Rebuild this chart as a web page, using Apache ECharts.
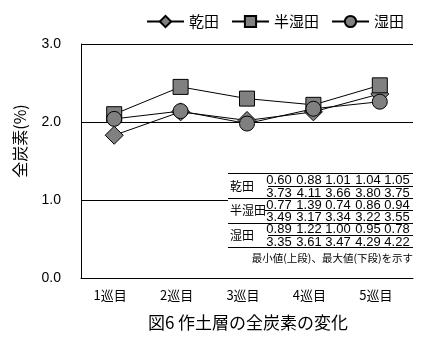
<!DOCTYPE html>
<html><head><meta charset="utf-8">
<script src="https://cdn.jsdelivr.net/npm/echarts@6/dist/echarts.min.js"></script>
<style>html,body{margin:0;padding:0;background:#fff}#c{width:431px;height:354px}</style>
</head><body><div id="c"></div>
<script>
const categories = ['1巡目','2巡目','3巡目','4巡目','5巡目'];
const seriesNames = ['乾田','半湿田','湿田'];
const kanden = [1.83, 2.13, 2.02, 2.13, 2.36];
const hanshitsuden = [2.10, 2.45, 2.30, 2.22, 2.47];
const shitsuden = [2.04, 2.14, 1.98, 2.17, 2.26];
const yTicks = [0, 1, 2, 3];
const minKanden = ['0.60','0.88','1.01','1.04','1.05'];
const maxKanden = ['3.73','4.11','3.66','3.80','3.75'];
const minHan = ['0.77','1.39','0.74','0.86','0.94'];
const maxHan = ['3.49','3.17','3.34','3.22','3.55'];
const minShitsu = ['0.89','1.22','1.00','0.95','0.78'];
const maxShitsu = ['3.35','3.61','3.47','4.29','4.22'];
const note = '最小値(上段)、最大値(下段)を示す';
const title = '図6 作土層の全炭素の変化';
const yName = '全炭素(%)';

const FONT = '"Noto Sans CJK JP", sans-serif';
const NUMFONT = '"Liberation Sans Narrow", "Liberation Sans", sans-serif';
const chart = echarts.init(document.getElementById('c'));

// table graphics
const tbl = [];
const tx0 = 228, tx1 = 413, ty0 = 173.5, rowH = 12.3;
const colX = [279, 309, 338, 368, 397];
tbl.push({type:'rect', shape:{x:tx0, y:ty0, width:tx1-tx0+3, height:93}, style:{fill:'#fff'}, z:10});
tbl.push({type:'line', shape:{x1:tx0, y1:ty0, x2:tx1, y2:ty0}, style:{stroke:'#000', lineWidth:1}, z:11});
const groups = [[seriesNames[0], minKanden, maxKanden],[seriesNames[1], minHan, maxHan],[seriesNames[2], minShitsu, maxShitsu]];
const rowLineStart = [268, 265, 268];
groups.forEach((g, gi) => {
  const y = ty0 + gi*2*rowH;
  tbl.push({type:'text', style:{text:g[0], x:tx0+2, y:y+rowH+0.5, fill:'#000', font:'12px '+FONT, textAlign:'left', textVerticalAlign:'middle'}, z:11});
  [g[1], g[2]].forEach((vals, ri) => {
    vals.forEach((v, ci) => {
      tbl.push({type:'text', style:{text:v, x:colX[ci], y:y+ri*rowH+rowH/2+1, fill:'#000', font:'13px '+NUMFONT, textAlign:'center', textVerticalAlign:'middle'}, z:11});
    });
  });
  tbl.push({type:'line', shape:{x1:rowLineStart[gi], y1:Math.round(y+rowH)+0.5, x2:tx1, y2:Math.round(y+rowH)+0.5}, style:{stroke:'#000', lineWidth:1}, z:11});
  tbl.push({type:'line', shape:{x1:tx0, y1:Math.round(y+2*rowH)+0.5, x2:tx1, y2:Math.round(y+2*rowH)+0.5}, style:{stroke:'#000', lineWidth:1}, z:11});
});
tbl.push({type:'text', style:{text:note, x:tx1, y:258, fill:'#000', font:'10.5px '+FONT, textAlign:'right', textVerticalAlign:'middle'}, z:11});

const mk = (name, data, symbol, size) => ({
  name, type:'line', data, symbol, symbolSize:size,
  lineStyle:{color:'#000', width:1},
  itemStyle:{color:'#808080', borderColor:'#000', borderWidth:1},
  emphasis:{disabled:true}, z:3
});

chart.setOption({
  animation:false,
  textStyle:{fontFamily:FONT, color:'#000'},
  legend:{left:146, top:14, padding:0, itemWidth:37, itemHeight:14, itemGap:12,
    textStyle:{fontSize:15, color:'#000', fontFamily:FONT},
    data:seriesNames},
  grid:{left:81, right:18, top:44, bottom:76},
  xAxis:{type:'category', data:categories, boundaryGap:true,
    axisLine:{lineStyle:{color:'#000', width:1}},
    axisTick:{inside:true, length:4, lineStyle:{color:'#000'}},
    axisLabel:{color:'#000', fontSize:13, margin:11, fontFamily:FONT, padding:[0,8,0,0]}},
  yAxis:{type:'value', min:yTicks[0], max:yTicks[yTicks.length-1], interval:1,
    axisLine:{show:true, lineStyle:{color:'#000', width:1}},
    axisTick:{show:false},
    splitLine:{show:true, lineStyle:{color:'#000', width:1}},
    axisLabel:{color:'#000', fontSize:14, margin:20, fontFamily:'"Liberation Sans", sans-serif', formatter:v=>v.toFixed(1)}},
  series:[
    mk(seriesNames[0], kanden, 'diamond', 18),
    mk(seriesNames[1], hanshitsuden, 'rect', 15),
    mk(seriesNames[2], shitsuden, 'circle', 15)
  ],
  graphic:[
    {type:'text', rotation:Math.PI/2, x:20, y:141, style:{text:yName, fill:'#000', font:'16px '+FONT, textAlign:'center', textVerticalAlign:'middle'}},
    {type:'text', x:248, y:323, style:{text:title, fill:'#000', font:'17px '+FONT, textAlign:'center', textVerticalAlign:'middle'}}
  ].concat(tbl)
});
</script></body></html>
